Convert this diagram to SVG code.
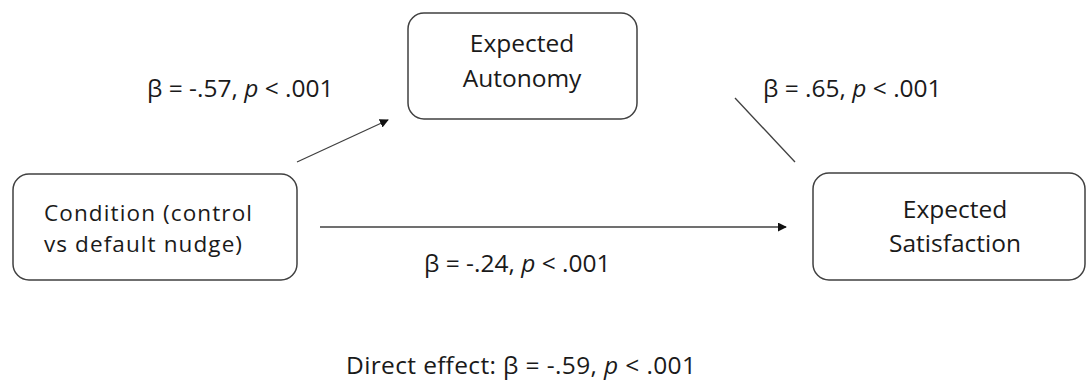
<svg xmlns="http://www.w3.org/2000/svg" width="1088" height="386" viewBox="0 0 1088 386">
<style>
.box{fill:#fff;stroke:#404040;stroke-width:1.5}
.t{font-family:"Open Sans","Liberation Sans",sans-serif;font-size:24.5px;fill:#1a1a1a}
.s{font-size:22.5px}
.c{text-anchor:middle}
.ln{stroke:#404040;stroke-width:1.3;fill:none}
</style>
<defs>
<marker id="ah" viewBox="0 0 10 10" refX="9" refY="5" markerWidth="9" markerHeight="9" markerUnits="userSpaceOnUse" orient="auto"><path d="M0,0 L10,5 L0,10 z" fill="#111"/></marker>
</defs>
<rect width="1088" height="386" fill="#fff"/>
<g id="connectors">
<line class="ln" x1="297" y1="162" x2="388" y2="120" marker-end="url(#ah)"/>
<line class="ln" x1="735" y1="98" x2="795" y2="162"/>
<line class="ln" x1="320" y1="227" x2="786" y2="227" marker-end="url(#ah)"/>
</g>
<g id="condition">
<rect class="box" x="13" y="174" width="284" height="106" rx="16"/>
<text class="t s" x="44" y="221" textLength="208" lengthAdjust="spacing">Condition (control</text>
<text class="t s" x="44" y="252" textLength="198" lengthAdjust="spacing">vs default nudge)</text>
</g>
<g id="autonomy">
<rect class="box" x="408" y="13" width="229" height="106" rx="16"/>
<text class="t c" x="522" y="52">Expected</text>
<text class="t c" x="522" y="87">Autonomy</text>
</g>
<g id="satisfaction">
<rect class="box" x="813" y="173" width="272" height="107" rx="16"/>
<text class="t c" x="955" y="218">Expected</text>
<text class="t c" x="955" y="252">Satisfaction</text>
</g>
<g id="labels">
<text class="t" x="147" y="97">β = -.57, <tspan font-style="italic">p</tspan> &lt; .001</text>
<text class="t" x="763" y="97">β = .65, <tspan font-style="italic">p</tspan> &lt; .001</text>
<text class="t" x="424" y="272">β = -.24, <tspan font-style="italic">p</tspan> &lt; .001</text>
<text class="t" x="346" y="374" textLength="350" lengthAdjust="spacing">Direct effect: β = -.59, <tspan font-style="italic">p</tspan> &lt; .001</text>
</g>
</svg>
